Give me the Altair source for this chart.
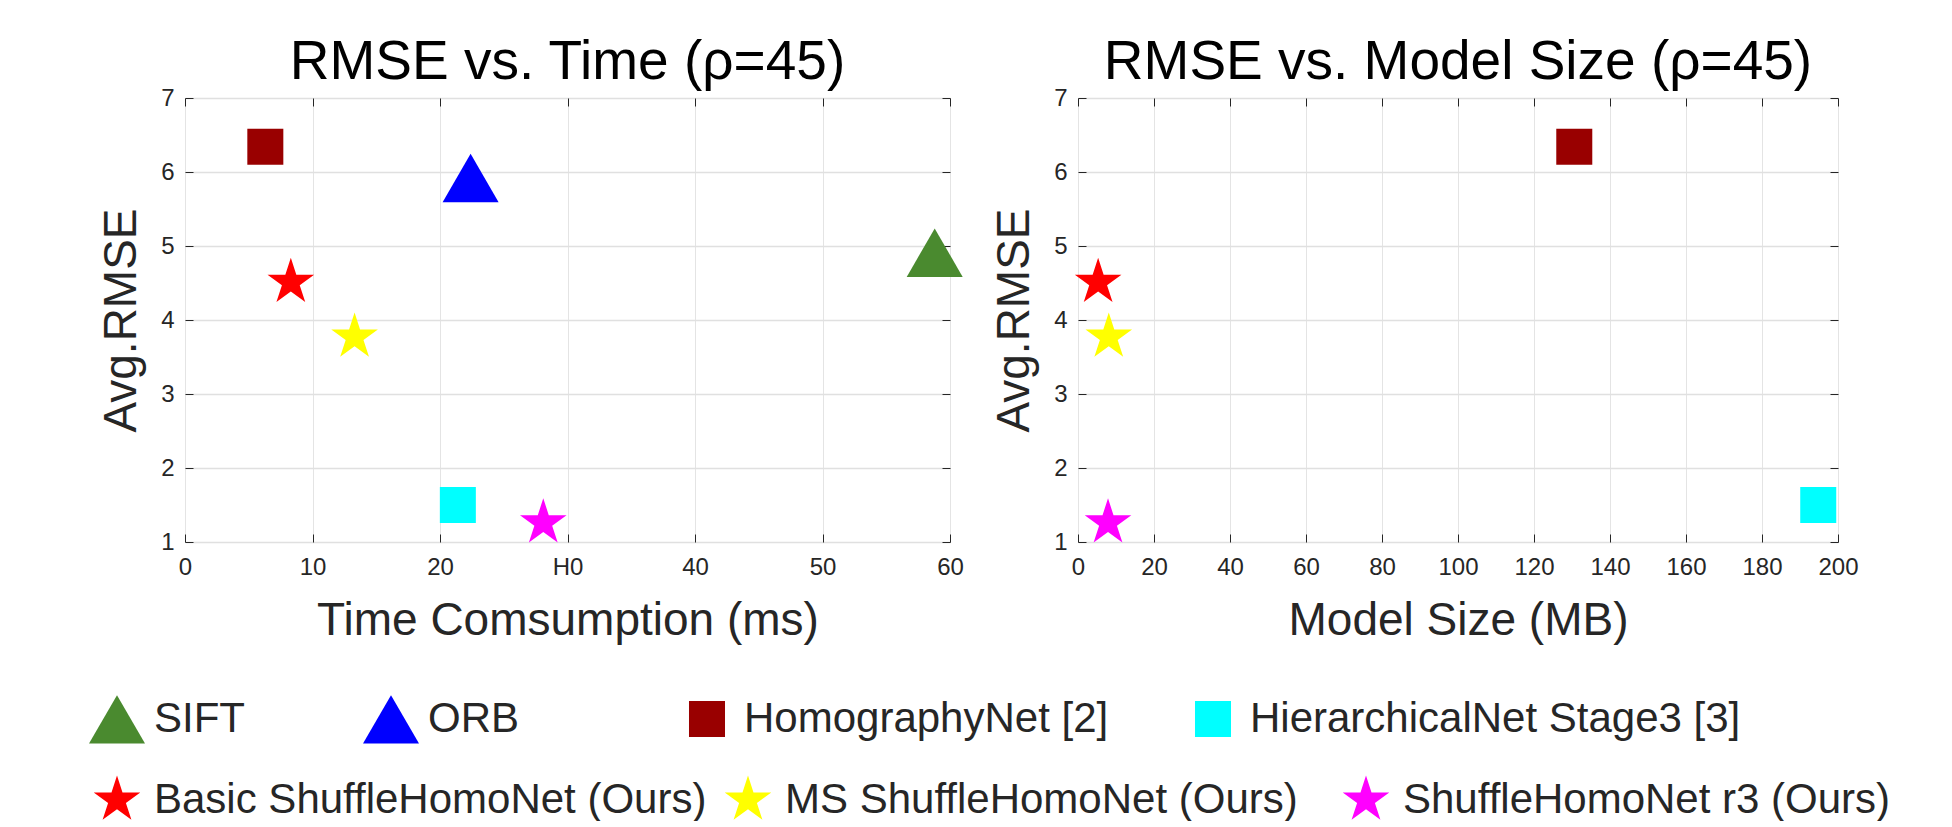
import altair as alt
import pandas as pd

# ---------------- data ----------------
methods = ["SIFT", "ORB", "HomographyNet [2]", "HierarchicalNet Stage3 [3]",
           "Basic ShuffleHomoNet (Ours)", "MS ShuffleHomoNet (Ours)", "ShuffleHomoNet r3 (Ours)"]
time_ms = [58.8, 22.4, 6.3, 21.4, 8.3, 13.3, 28.1]
model_mb = [None, None, 130.6, 194.8, 5.3, 8.1, 7.9]
avg_rmse = [4.91, 5.92, 6.34, 1.50, 4.51, 3.77, 1.26]
marker_kind = ["triangle", "triangle", "square", "square", "star", "star", "star"]
colors = ["#4a8a2f", "#0000ff", "#990000", "#00ffff", "#ff0000", "#ffff00", "#ff00ff"]

time_ticks = [0, 10, 20, 30, 40, 50, 60]
size_ticks = [0, 20, 40, 60, 80, 100, 120, 140, 160, 180, 200]
rmse_ticks = [1, 2, 3, 4, 5, 6, 7]

# ---------------- styles ----------------
FONT = "Liberation Sans"
INK = "#262626"
TRI = "M0,-0.866L1,0.866L-1,0.866Z"
SQ = "M-0.643,-0.643L0.643,-0.643L0.643,0.643L-0.643,0.643Z"
STAR = ("M0,-0.875L0.196,-0.27L0.832,-0.27L0.318,0.103L0.514,0.708L0,0.334"
        "L-0.514,0.708L-0.318,0.103L-0.832,-0.27L-0.196,-0.27Z")
MSIZE = 3136
TICK = 8

df = pd.DataFrame({"method": methods, "time": time_ms, "size": model_mb,
                   "rmse": avg_rmse, "kind": marker_kind})
tri = [m for m, k in zip(methods, marker_kind) if k == "triangle"]
sq = [m for m, k in zip(methods, marker_kind) if k == "square"]
stars = [m for m, k in zip(methods, marker_kind) if k == "star"]
non_star = tri + sq
color_of = dict(zip(methods, colors))
non_star_colors = [color_of[m] for m in non_star]
star_colors = [color_of[m] for m in stars]

common = dict(orient="none", direction="horizontal", title=None,
              symbolSize=MSIZE, symbolStrokeWidth=0, labelFont=FONT,
              labelFontSize=42, labelColor=INK, labelLimit=2000,
              labelOffset=9, padding=0)
ROW1, ROW2 = 593, 674
leg_tri = alt.Legend(values=tri, columns=2, columnPadding=118, legendX=-96, legendY=ROW1,
                     symbolType=TRI, **common)
leg_homo = alt.Legend(values=sq[:1], columns=1, legendX=494, legendY=ROW1,
                      symbolFillColor=color_of[sq[0]], **common)
leg_hier = alt.Legend(values=sq[1:], columns=1, legendX=1000, legendY=ROW1,
                      symbolType=SQ, symbolFillColor=color_of[sq[1]], **common)
leg_star1 = alt.Legend(values=stars[:2], columns=2, columnPadding=13, legendX=-96,
                       legendY=ROW2, symbolType=STAR, **common)
leg_star2 = alt.Legend(values=stars[2:], columns=1, legendX=1153, legendY=ROW2,
                       symbolType=STAR, symbolFillColor=color_of[stars[2]], **common)


def panel(xfield, xdomain, xticks, xtitle, title, width, label_expr=None):
    data = df.dropna(subset=[xfield])
    d_tri = data[data["kind"] == "triangle"]
    d_sq = data[data["kind"] == "square"]
    d_st = data[data["kind"] == "star"]
    xs = alt.Scale(domain=xdomain, nice=False, zero=False)
    ys = alt.Scale(domain=[1, 7], nice=False, zero=False)

    xa_kw = dict(orient="bottom", values=xticks, title=xtitle, grid=True,
                 gridColor="#e4e4e4", gridWidth=1, ticks=False, tickSize=0,
                 domain=False, labelFont=FONT, labelFontSize=24, labelColor=INK,
                 labelPadding=13, labelFlush=False, labelOverlap=False,
                 titleFont=FONT, titleFontSize=46,
                 titleFontWeight="normal", titleColor=INK, titlePadding=19)
    if label_expr:
        xa_kw["labelExpr"] = label_expr
    x_main = alt.Axis(**xa_kw)
    y_main = alt.Axis(orient="left", values=rmse_ticks, title="Avg.RMSE", grid=True,
                      gridColor="#e0e0e0", gridWidth=1.5, ticks=False, tickSize=0,
                      domain=False, labelFont=FONT, labelFontSize=24, labelColor=INK,
                      labelPadding=11, labelFlush=False, titleFont=FONT, titleFontSize=46,
                      titleFontWeight="normal", titleColor=INK, titlePadding=15)

    def tick_axis(orient, vals):
        return alt.Axis(orient=orient, values=vals, offset=-TICK, tickSize=TICK,
                        ticks=True, tickColor=INK, tickWidth=1, labels=False,
                        domain=False, grid=False, title=None)

    def guide(xaxis, yaxis):
        return alt.Chart(data).mark_point(opacity=0, size=1).encode(
            x=alt.X(f"{xfield}:Q", scale=xs, axis=xaxis),
            y=alt.Y("rmse:Q", scale=ys, axis=yaxis),
        )

    pt = dict(filled=True, opacity=1, size=MSIZE, strokeWidth=0)
    xenc = alt.X(f"{xfield}:Q", scale=xs, axis=None)
    yenc = alt.Y("rmse:Q", scale=ys, axis=None)
    color_scale = alt.Scale(domain=non_star, range=non_star_colors)

    layers = [
        guide(x_main, y_main),
        guide(tick_axis("bottom", xticks), tick_axis("left", rmse_ticks)),
        guide(tick_axis("top", xticks), tick_axis("right", rmse_ticks)),
    ]
    if len(d_tri):
        layers.append(alt.Chart(d_tri).mark_point(shape=TRI, **pt).encode(
            x=xenc, y=yenc,
            color=alt.Color("method:N", scale=color_scale, legend=leg_tri)))
    layers.append(alt.Chart(d_sq).mark_point(**pt).encode(
        x=xenc, y=yenc,
        color=alt.Color("method:N", scale=color_scale, legend=leg_tri),
        shape=alt.Shape("method:N", scale=alt.Scale(domain=sq, range=[SQ, SQ]),
                        legend=leg_homo),
        opacity=alt.Opacity("method:N", scale=alt.Scale(domain=sq[::-1], range=[1, 1]),
                            legend=leg_hier)))
    layers.append(alt.Chart(d_st).mark_point(shape=STAR, **pt).encode(
        x=xenc, y=yenc,
        fill=alt.Fill("method:N", scale=alt.Scale(domain=stars, range=star_colors),
                      legend=leg_star1),
        size=alt.Size("method:N", scale=alt.Scale(domain=stars[::-1], range=[MSIZE, MSIZE]),
                      legend=leg_star2)))

    return alt.layer(*layers).resolve_axis(x="independent", y="independent").properties(
        width=width, height=444,
        title=alt.TitleParams(text=title, font=FONT, fontSize=55, fontWeight="normal",
                              color="black", anchor="middle", frame="group",
                              baseline="alphabetic", offset=-48),
    )


left = panel("time", [0, 60], time_ticks, "Time Comsumption (ms)",
             "RMSE vs. Time (ρ=45)", 765,
             label_expr="datum.value == 30 ? 'H0' : datum.label")
right = panel("size", [0, 200], size_ticks, "Model Size (MB)",
              "RMSE vs. Model Size (ρ=45)", 760)

chart = alt.hconcat(left, right, spacing=27).properties(
    padding={"left": 81, "top": 26, "right": 5, "bottom": 0},
).configure_view(stroke=INK, strokeWidth=1).configure(background="white")

chart.save("out.html", embed_options={"renderer": "svg", "actions": False})
